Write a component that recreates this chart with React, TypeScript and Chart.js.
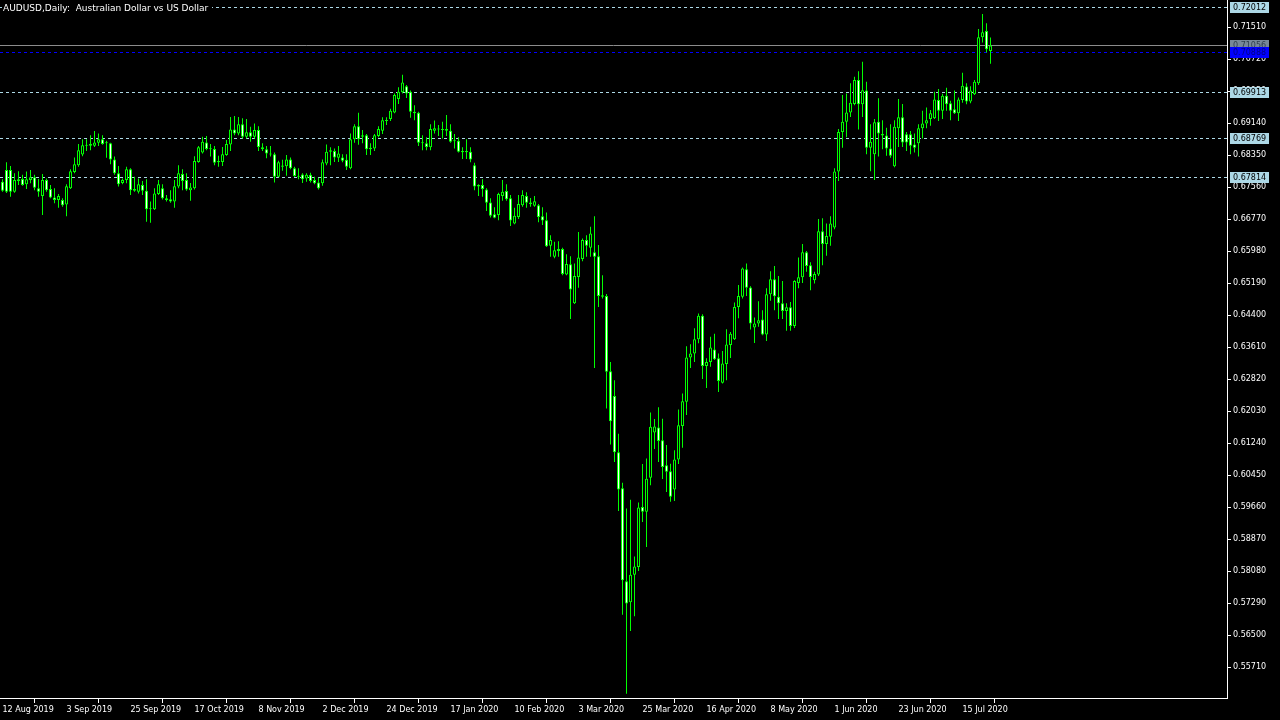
import React, { useEffect, useRef } from 'react';
import { Chart, registerables } from 'chart.js';

Chart.register(...registerables);

// ---- data (AUDUSD daily) ----
const opens = [
  0.6769, 0.6798, 0.6798, 0.6744, 0.6771, 0.6776, 0.6763, 0.6773, 0.6780, 0.6753,
  0.6734, 0.6773, 0.6751, 0.6730, 0.6724, 0.6724, 0.6713, 0.6753, 0.6793, 0.6810,
  0.6836, 0.6858, 0.6858, 0.6858, 0.6865, 0.6874, 0.6865, 0.6864, 0.6824, 0.6790,
  0.6766, 0.6773, 0.6800, 0.6751, 0.6744, 0.6761, 0.6747, 0.6701, 0.6701, 0.6739,
  0.6753, 0.6728, 0.6726, 0.6720, 0.6757, 0.6788, 0.6773, 0.6748, 0.6753, 0.6818,
  0.6841, 0.6866, 0.6851, 0.6850, 0.6817, 0.6818, 0.6835, 0.6861, 0.6898, 0.6888,
  0.6911, 0.6880, 0.6891, 0.6880, 0.6897, 0.6854, 0.6849, 0.6836, 0.6837, 0.6781,
  0.6806, 0.6807, 0.6824, 0.6802, 0.6783, 0.6787, 0.6777, 0.6786, 0.6773, 0.6767,
  0.6765, 0.6814, 0.6843, 0.6845, 0.6828, 0.6829, 0.6823, 0.6802, 0.6874, 0.6906,
  0.6884, 0.6884, 0.6849, 0.6851, 0.6882, 0.6895, 0.6919, 0.6924, 0.6940, 0.6973,
  0.6990, 0.7005, 0.6991, 0.6942, 0.6939, 0.6865, 0.6864, 0.6854, 0.6895, 0.6898,
  0.6897, 0.6899, 0.6895, 0.6869, 0.6870, 0.6845, 0.6842, 0.6843, 0.6810, 0.6761,
  0.6761, 0.6750, 0.6718, 0.6689, 0.6687, 0.6734, 0.6746, 0.6728, 0.6666, 0.6682,
  0.6711, 0.6734, 0.6718, 0.6710, 0.6711, 0.6684, 0.6674, 0.6611, 0.6584, 0.6598,
  0.6603, 0.6540, 0.6565, 0.6469, 0.6534, 0.6578, 0.6625, 0.6606, 0.6595, 0.6585,
  0.6489, 0.6487, 0.6301, 0.6240, 0.6101, 0.6012, 0.5783, 0.5731, 0.5799, 0.5818,
  0.5966, 0.5954, 0.6038, 0.6150, 0.6162, 0.6131, 0.6069, 0.6054, 0.6009, 0.6083,
  0.6166, 0.6226, 0.6335, 0.6345, 0.6380, 0.6438, 0.6314, 0.6324, 0.6355, 0.6333,
  0.6273, 0.6319, 0.6366, 0.6380, 0.6460, 0.6485, 0.6553, 0.6508, 0.6409, 0.6419,
  0.6429, 0.6392, 0.6491, 0.6528, 0.6485, 0.6469, 0.6450, 0.6459, 0.6413, 0.6519,
  0.6533, 0.6595, 0.6563, 0.6526, 0.6540, 0.6647, 0.6615, 0.6633, 0.6656, 0.6794,
  0.6892, 0.6917, 0.6940, 0.6961, 0.7020, 0.6960, 0.6994, 0.6853, 0.6837, 0.6917,
  0.6887, 0.6883, 0.6851, 0.6807, 0.6901, 0.6928, 0.6886, 0.6886, 0.6861, 0.6864,
  0.6901, 0.6913, 0.6924, 0.6926, 0.6971, 0.6944, 0.6981, 0.6963, 0.6948, 0.6938,
  0.6971, 0.7004, 0.6967, 0.6985, 0.7012, 0.7126, 0.7141, 0.7092,
];
const highs = [
  0.6775, 0.6817, 0.6808, 0.6790, 0.6795, 0.6786, 0.6794, 0.6798, 0.6786, 0.6776,
  0.6788, 0.6777, 0.6761, 0.6753, 0.6739, 0.6728, 0.6763, 0.6800, 0.6829, 0.6862,
  0.6874, 0.6874, 0.6884, 0.6894, 0.6888, 0.6884, 0.6870, 0.6865, 0.6831, 0.6808,
  0.6777, 0.6806, 0.6802, 0.6781, 0.6777, 0.6771, 0.6775, 0.6720, 0.6753, 0.6773,
  0.6763, 0.6736, 0.6748, 0.6773, 0.6810, 0.6800, 0.6790, 0.6766, 0.6832, 0.6857,
  0.6880, 0.6882, 0.6862, 0.6857, 0.6833, 0.6855, 0.6872, 0.6929, 0.6931, 0.6929,
  0.6926, 0.6924, 0.6905, 0.6913, 0.6906, 0.6864, 0.6857, 0.6857, 0.6841, 0.6821,
  0.6823, 0.6835, 0.6829, 0.6806, 0.6802, 0.6790, 0.6790, 0.6791, 0.6781, 0.6779,
  0.6824, 0.6861, 0.6854, 0.6851, 0.6857, 0.6837, 0.6837, 0.6888, 0.6911, 0.6939,
  0.6897, 0.6887, 0.6864, 0.6887, 0.6906, 0.6928, 0.6928, 0.6949, 0.6987, 0.7002,
  0.7033, 0.7008, 0.6994, 0.6958, 0.6942, 0.6884, 0.6879, 0.6911, 0.6920, 0.6909,
  0.6917, 0.6934, 0.6911, 0.6887, 0.6879, 0.6854, 0.6874, 0.6854, 0.6816, 0.6763,
  0.6775, 0.6753, 0.6728, 0.6706, 0.6742, 0.6773, 0.6763, 0.6736, 0.6705, 0.6736,
  0.6748, 0.6743, 0.6729, 0.6734, 0.6714, 0.6706, 0.6693, 0.6637, 0.6621, 0.6622,
  0.6606, 0.6590, 0.6585, 0.6567, 0.6645, 0.6629, 0.6637, 0.6658, 0.6684, 0.6613,
  0.6538, 0.6492, 0.6324, 0.6279, 0.6147, 0.6026, 0.5962, 0.5984, 0.5844, 0.5977,
  0.6072, 0.6086, 0.6199, 0.6183, 0.6212, 0.6184, 0.6119, 0.6073, 0.6106, 0.6207,
  0.6246, 0.6363, 0.6368, 0.6407, 0.6444, 0.6442, 0.6333, 0.6386, 0.6394, 0.6345,
  0.6351, 0.6405, 0.6398, 0.6471, 0.6514, 0.6557, 0.6567, 0.6511, 0.6434, 0.6474,
  0.6452, 0.6506, 0.6548, 0.6561, 0.6536, 0.6524, 0.6469, 0.6472, 0.6526, 0.6582,
  0.6615, 0.6598, 0.6570, 0.6547, 0.6677, 0.6679, 0.6666, 0.6684, 0.6802, 0.6899,
  0.6983, 0.6987, 0.7012, 0.7028, 0.7042, 0.7065, 0.7016, 0.6911, 0.6924, 0.6975,
  0.6921, 0.6902, 0.6911, 0.6921, 0.6973, 0.6961, 0.6892, 0.6894, 0.6888, 0.6911,
  0.6944, 0.6952, 0.6946, 0.6991, 0.6998, 0.6986, 0.7001, 0.6969, 0.6994, 0.6977,
  0.7038, 0.7012, 0.7005, 0.7020, 0.7146, 0.7183, 0.7160, 0.7125,
];
const lows = [
  0.6744, 0.6741, 0.6732, 0.6742, 0.6761, 0.6759, 0.6751, 0.6765, 0.6748, 0.6732,
  0.6687, 0.6744, 0.6728, 0.6716, 0.6705, 0.6707, 0.6684, 0.6751, 0.6790, 0.6806,
  0.6832, 0.6845, 0.6847, 0.6855, 0.6857, 0.6860, 0.6828, 0.6812, 0.6786, 0.6757,
  0.6763, 0.6765, 0.6736, 0.6744, 0.6740, 0.6736, 0.6670, 0.6668, 0.6699, 0.6736,
  0.6725, 0.6720, 0.6717, 0.6705, 0.6753, 0.6748, 0.6747, 0.6722, 0.6750, 0.6816,
  0.6839, 0.6847, 0.6831, 0.6810, 0.6806, 0.6808, 0.6833, 0.6845, 0.6884, 0.6884,
  0.6876, 0.6876, 0.6868, 0.6876, 0.6845, 0.6845, 0.6827, 0.6831, 0.6767, 0.6780,
  0.6796, 0.6784, 0.6800, 0.6781, 0.6775, 0.6766, 0.6769, 0.6767, 0.6763, 0.6750,
  0.6759, 0.6810, 0.6810, 0.6818, 0.6818, 0.6817, 0.6798, 0.6800, 0.6865, 0.6860,
  0.6864, 0.6835, 0.6835, 0.6845, 0.6879, 0.6887, 0.6909, 0.6919, 0.6938, 0.6961,
  0.6987, 0.6976, 0.6927, 0.6921, 0.6857, 0.6847, 0.6847, 0.6847, 0.6888, 0.6882,
  0.6876, 0.6882, 0.6865, 0.6851, 0.6841, 0.6825, 0.6825, 0.6817, 0.6748, 0.6734,
  0.6732, 0.6697, 0.6681, 0.6679, 0.6674, 0.6722, 0.6722, 0.6660, 0.6664, 0.6677,
  0.6707, 0.6705, 0.6707, 0.6707, 0.6669, 0.6662, 0.6608, 0.6584, 0.6580, 0.6584,
  0.6538, 0.6538, 0.6430, 0.6467, 0.6507, 0.6573, 0.6584, 0.6584, 0.6309, 0.6460,
  0.6481, 0.6209, 0.6120, 0.6077, 0.5956, 0.5700, 0.5505, 0.5660, 0.5696, 0.5808,
  0.5929, 0.5867, 0.6020, 0.6109, 0.6077, 0.6035, 0.6003, 0.5979, 0.5981, 0.6072,
  0.6112, 0.6193, 0.6309, 0.6324, 0.6370, 0.6282, 0.6260, 0.6312, 0.6329, 0.6250,
  0.6271, 0.6279, 0.6334, 0.6378, 0.6432, 0.6481, 0.6487, 0.6404, 0.6371, 0.6411,
  0.6390, 0.6376, 0.6475, 0.6452, 0.6430, 0.6430, 0.6401, 0.6401, 0.6408, 0.6506,
  0.6519, 0.6547, 0.6501, 0.6518, 0.6536, 0.6563, 0.6586, 0.6611, 0.6652, 0.6771,
  0.6853, 0.6879, 0.6929, 0.6958, 0.6898, 0.6929, 0.6837, 0.6795, 0.6773, 0.6831,
  0.6849, 0.6833, 0.6828, 0.6805, 0.6855, 0.6855, 0.6845, 0.6837, 0.6841, 0.6831,
  0.6876, 0.6901, 0.6907, 0.6924, 0.6919, 0.6924, 0.6944, 0.6921, 0.6936, 0.6919,
  0.6964, 0.6960, 0.6963, 0.6983, 0.7008, 0.7113, 0.7088, 0.7060,
];
const closes = [
  0.6747, 0.6744, 0.6744, 0.6773, 0.6775, 0.6761, 0.6775, 0.6780, 0.6754, 0.6744,
  0.6773, 0.6748, 0.6730, 0.6724, 0.6734, 0.6711, 0.6758, 0.6795, 0.6812, 0.6847,
  0.6859, 0.6860, 0.6862, 0.6866, 0.6874, 0.6862, 0.6864, 0.6824, 0.6790, 0.6763,
  0.6773, 0.6800, 0.6748, 0.6747, 0.6763, 0.6747, 0.6701, 0.6703, 0.6740, 0.6763,
  0.6728, 0.6724, 0.6720, 0.6758, 0.6790, 0.6771, 0.6750, 0.6755, 0.6820, 0.6854,
  0.6868, 0.6850, 0.6849, 0.6816, 0.6820, 0.6837, 0.6862, 0.6898, 0.6888, 0.6911,
  0.6880, 0.6891, 0.6880, 0.6897, 0.6855, 0.6849, 0.6839, 0.6839, 0.6781, 0.6817,
  0.6809, 0.6824, 0.6802, 0.6783, 0.6781, 0.6775, 0.6786, 0.6771, 0.6765, 0.6753,
  0.6817, 0.6843, 0.6847, 0.6829, 0.6839, 0.6821, 0.6806, 0.6874, 0.6906, 0.6874,
  0.6880, 0.6849, 0.6853, 0.6884, 0.6899, 0.6921, 0.6921, 0.6944, 0.6983, 0.6991,
  0.7014, 0.6987, 0.6942, 0.6938, 0.6865, 0.6864, 0.6855, 0.6899, 0.6901, 0.6900,
  0.6898, 0.6895, 0.6868, 0.6870, 0.6843, 0.6842, 0.6845, 0.6824, 0.6757, 0.6757,
  0.6751, 0.6717, 0.6685, 0.6680, 0.6739, 0.6744, 0.6726, 0.6673, 0.6685, 0.6714,
  0.6736, 0.6717, 0.6714, 0.6721, 0.6682, 0.6673, 0.6610, 0.6625, 0.6600, 0.6603,
  0.6541, 0.6566, 0.6503, 0.6536, 0.6582, 0.6625, 0.6611, 0.6641, 0.6584, 0.6487,
  0.6485, 0.6300, 0.6178, 0.6101, 0.6009, 0.5785, 0.5728, 0.5799, 0.5819, 0.5965,
  0.5954, 0.6036, 0.6164, 0.6165, 0.6129, 0.6065, 0.6053, 0.5991, 0.6083, 0.6168,
  0.6227, 0.6335, 0.6345, 0.6380, 0.6438, 0.6314, 0.6324, 0.6360, 0.6331, 0.6277,
  0.6320, 0.6367, 0.6394, 0.6460, 0.6487, 0.6555, 0.6507, 0.6419, 0.6419, 0.6427,
  0.6392, 0.6491, 0.6528, 0.6486, 0.6469, 0.6450, 0.6459, 0.6413, 0.6524, 0.6533,
  0.6595, 0.6561, 0.6534, 0.6541, 0.6647, 0.6615, 0.6635, 0.6666, 0.6794, 0.6892,
  0.6917, 0.6940, 0.6964, 0.7020, 0.6960, 0.6995, 0.6853, 0.6868, 0.6916, 0.6888,
  0.6883, 0.6851, 0.6833, 0.6905, 0.6928, 0.6866, 0.6866, 0.6858, 0.6853, 0.6901,
  0.6913, 0.6921, 0.6938, 0.6972, 0.6944, 0.6981, 0.6960, 0.6944, 0.6938, 0.6972,
  0.7006, 0.6967, 0.6994, 0.7016, 0.7126, 0.7138, 0.7096, 0.71056,
];

const dateLabels = [
  '12 Aug 2019', '3 Sep 2019', '25 Sep 2019', '17 Oct 2019', '8 Nov 2019',
  '2 Dec 2019', '24 Dec 2019', '17 Jan 2020', '10 Feb 2020', '3 Mar 2020',
  '25 Mar 2020', '16 Apr 2020', '8 May 2020', '1 Jun 2020', '23 Jun 2020', '15 Jul 2020',
];
const dateLabelBars = [0, 16, 32, 48, 64, 80, 96, 112, 128, 144, 160, 176, 192, 208, 224, 240];

const priceTicks = [
  0.5571, 0.565, 0.5729, 0.5808, 0.5887, 0.5966, 0.6045, 0.6124, 0.6203, 0.6282,
  0.6361, 0.644, 0.6519, 0.6598, 0.6677, 0.6756, 0.6835, 0.6914, 0.6993, 0.7072, 0.7151,
];

const levelLines = [0.72012, 0.69913, 0.68769, 0.67814];
const bidPrice = 0.71056;
const markPrice = 0.70888;
const titleText = 'AUDUSD,Daily:  Australian Dollar vs US Dollar';

// ---- style ----
const GREEN = '#00ff00';
const LEVEL = '#add8e6';
const FONT = 'DejaVu Sans';

const overlayPlugin = {
  id: 'mtOverlay',
  beforeDatasetsDraw(chart: any) {
    const { ctx, chartArea, scales } = chart;
    const y = scales.y;
    ctx.save();
    ctx.lineWidth = 1;
    ctx.setLineDash([3, 3]);
    ctx.strokeStyle = LEVEL;
    for (const v of levelLines) {
      const py = Math.round(y.getPixelForValue(v)) + 0.5;
      ctx.beginPath();
      ctx.moveTo(chartArea.left, py);
      ctx.lineTo(chartArea.right, py);
      ctx.stroke();
    }
    ctx.strokeStyle = '#0000ff';
    {
      const py = Math.round(y.getPixelForValue(markPrice)) + 0.5;
      ctx.beginPath();
      ctx.moveTo(chartArea.left, py);
      ctx.lineTo(chartArea.right, py);
      ctx.stroke();
    }
    ctx.setLineDash([]);
    ctx.strokeStyle = '#8c8c8c';
    {
      const py = Math.round(y.getPixelForValue(bidPrice)) + 0.5;
      ctx.beginPath();
      ctx.moveTo(chartArea.left, py);
      ctx.lineTo(chartArea.right, py);
      ctx.stroke();
    }
    ctx.restore();
  },
  afterDraw(chart: any) {
    const { ctx, chartArea, scales } = chart;
    const y = scales.y;
    ctx.save();
    ctx.font = `8px "${FONT}"`;
    ctx.textBaseline = 'middle';
    ctx.textAlign = 'left';
    const box = (v: number, bg: string, fg: string) => {
      const py = Math.round(y.getPixelForValue(v));
      ctx.fillStyle = bg;
      ctx.fillRect(chartArea.right + 3, py - 5, 39, 11);
      ctx.fillStyle = fg;
      ctx.fillText(v.toFixed(5), chartArea.right + 6, py + 0.5);
    };
    for (const v of levelLines) box(v, LEVEL, '#000000');
    box(bidPrice, '#778899', '#2f3f4f');
    box(markPrice, '#0000ff', '#000080');
    // title on a black backing, as the terminal draws it
    ctx.font = `9px "${FONT}"`;
    const w = ctx.measureText(titleText).width;
    ctx.fillStyle = '#000000';
    ctx.fillRect(2, 2, Math.ceil(w) + 4, 11);
    ctx.fillStyle = '#ffffff';
    ctx.textBaseline = 'top';
    ctx.fillText(titleText, 3, 4);
    ctx.restore();
  },
};

export default function App() {
  const ref = useRef<HTMLCanvasElement>(null);
  useEffect(() => {
    if (!ref.current) return;
    const bodyData = opens.map((o, i) => ({ x: i, y: [o, closes[i]] }));
    const wickData = lows.map((l, i) => ({ x: i, y: [l, highs[i]] }));
    const bodyFill = opens.map((o, i) => (closes[i] > o ? '#000000' : '#ffffff'));
    const chart = new Chart(ref.current, {
      type: 'bar',
      data: {
        datasets: [
          {
            label: 'body',
            data: bodyData as any,
            backgroundColor: bodyFill,
            borderColor: GREEN,
            borderWidth: 1,
            borderSkipped: false,
            barThickness: 3,
            minBarLength: 1,
            grouped: false,
            inflateAmount: 0,
            order: 0,
          } as any,
          {
            label: 'wick',
            data: wickData as any,
            backgroundColor: GREEN,
            borderWidth: 0,
            barThickness: 1,
            grouped: false,
            inflateAmount: 0,
            order: 1,
          } as any,
        ],
      },
      options: {
        responsive: false,
        animation: false,
        devicePixelRatio: 1,
        layout: { padding: 0 },
        plugins: { legend: { display: false }, tooltip: { enabled: false } },
        scales: {
          x: {
            type: 'linear',
            min: -0.625,
            max: 306.125,
            offset: false,
            afterFit: (s: any) => {
              s.height = 22;
              s.paddingLeft = 0;
              s.paddingRight = 0;
              s.paddingTop = 0;
              s.paddingBottom = 0;
            },
            afterBuildTicks: (s: any) => { s.ticks = dateLabelBars.map((v) => ({ value: v })); },
            grid: { drawOnChartArea: false, drawTicks: true, tickLength: 5, tickColor: '#ffffff' },
            border: { display: true, color: '#ffffff', width: 1 },
            ticks: {
              color: '#ffffff',
              font: { family: FONT, size: 8 },
              autoSkip: false,
              maxRotation: 0,
              minRotation: 0,
              align: 'start',
              padding: 2,
              callback: (v: any) => {
                const k = dateLabelBars.indexOf(Number(v));
                return k >= 0 ? dateLabels[k] : '';
              },
            },
          },
          y: {
            type: 'linear',
            position: 'right',
            min: 0.549447,
            max: 0.721766,
            afterFit: (s: any) => {
              s.width = 53;
              s.paddingTop = 0;
              s.paddingBottom = 0;
              s.paddingLeft = 0;
              s.paddingRight = 0;
            },
            afterBuildTicks: (s: any) => { s.ticks = priceTicks.map((v) => ({ value: v })); },
            grid: { drawOnChartArea: false, drawTicks: true, tickLength: 4, tickColor: '#ffffff' },
            border: { display: true, color: '#ffffff', width: 1 },
            ticks: {
              color: '#ffffff',
              font: { family: FONT, size: 8 },
              padding: 2,
              autoSkip: false,
              callback: (v: any) => Number(v).toFixed(5),
            },
          },
        },
      } as any,
      plugins: [overlayPlugin],
    });
    return () => chart.destroy();
  }, []);
  return (
    <div style={{ position: 'fixed', left: 0, top: 0, width: 1280, height: 720, background: '#000000' }}>
      <canvas ref={ref} width={1280} height={720} style={{ display: 'block' }} />
    </div>
  );
}
